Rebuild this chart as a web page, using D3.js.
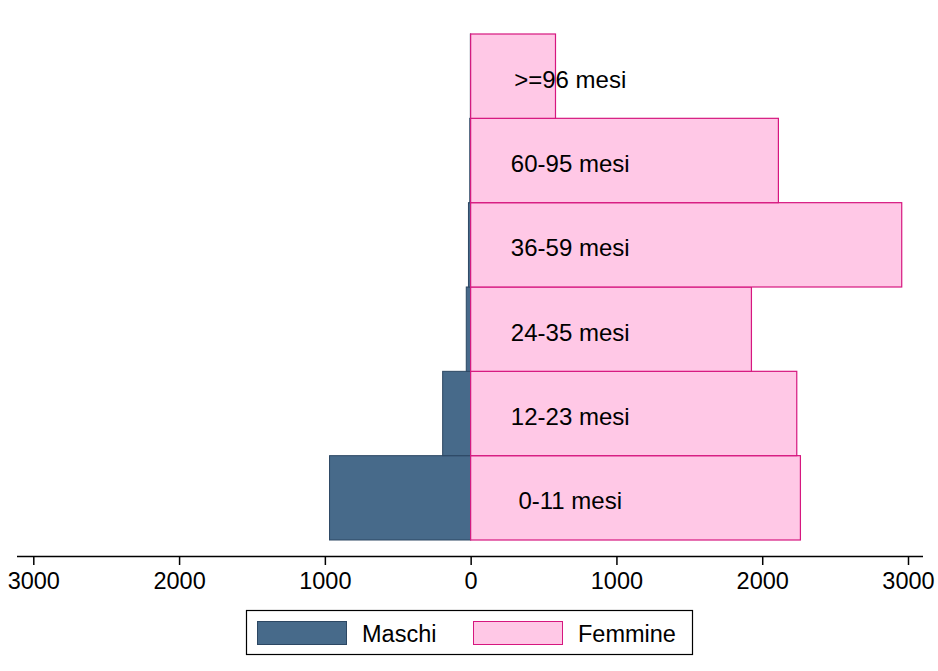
<!DOCTYPE html>
<html><head><meta charset="utf-8">
<script src="https://cdn.jsdelivr.net/npm/d3@7"></script>
<style>body{margin:0;background:#fff}svg{display:block}text{font-family:Arial,"Liberation Sans",sans-serif}</style>
</head><body><svg id="c" width="938" height="671"></svg>
<script>
const categories = ["0-11 mesi","12-23 mesi","24-35 mesi","36-59 mesi","60-95 mesi",">=96 mesi"];
const maschi = [968, 192, 30, 15, 6, 2];
const femmine = [2262, 2237, 1926, 2957, 2111, 582];
const tickValues = [-3000,-2000,-1000,0,1000,2000,3000];
const tickLabels = ["3000","2000","1000","0","1000","2000","3000"];
const labelPos = 683;

const svg = d3.select("#c");
const x = d3.scaleLinear().domain([-3000,3000]).range([33.3,908]);
const y = d3.scaleBand().domain(categories).range([540,34]).padding(0);

const maleFill="#476a8a", maleStroke="#2c4763", femFill="#ffc8e6", femStroke="#d6177f";

svg.append("g").selectAll("rect").data(categories).join("rect")
  .attr("x",(d,i)=>x(-maschi[i])).attr("width",(d,i)=>x(0)-x(-maschi[i]))
  .attr("y",d=>y(d)).attr("height",y.bandwidth())
  .attr("fill",maleFill).attr("stroke",maleStroke).attr("stroke-width",1);

svg.append("g").selectAll("rect").data(categories).join("rect")
  .attr("x",x(0)).attr("width",(d,i)=>x(femmine[i])-x(0))
  .attr("y",d=>y(d)).attr("height",y.bandwidth())
  .attr("fill",femFill).attr("stroke",femStroke).attr("stroke-width",1.2);

svg.append("g").selectAll("text").data(categories).join("text")
  .attr("x",x(labelPos)).attr("y",d=>y(d)+y.bandwidth()/2+3)
  .attr("dy","0.36em").attr("text-anchor","middle")
  .attr("font-size",24).attr("fill","#000").text(d=>d);

const ax = svg.append("g").attr("transform","translate(0,556)")
  .call(d3.axisBottom(x).tickValues(tickValues).tickFormat((d,i)=>tickLabels[i]).tickSize(9).tickPadding(7).tickSizeOuter(0));
ax.select(".domain").attr("d","M17,0.5H923").attr("stroke","#000").attr("stroke-width",1.5);
ax.selectAll(".tick line").attr("stroke","#000").attr("stroke-width",1.5);
ax.selectAll(".tick text").attr("font-size",23.5).attr("font-family","Arial, 'Liberation Sans', sans-serif").attr("fill","#000");

const lg = svg.append("g");
lg.append("rect").attr("x",246.5).attr("y",610.5).attr("width",446).attr("height",44).attr("fill","#fff").attr("stroke","#000").attr("stroke-width",1.2);
const items=[{n:"Maschi",f:maleFill,s:maleStroke,x:257},{n:"Femmine",f:femFill,s:femStroke,x:473}];
items.forEach(it=>{
  lg.append("rect").attr("x",it.x+0.5).attr("y",621.5).attr("width",89).attr("height",23).attr("fill",it.f).attr("stroke",it.s);
  lg.append("text").attr("x",it.x+105).attr("y",633.5).attr("dy","0.36em").attr("font-size",23.5).attr("fill","#000").text(it.n);
});
</script></body></html>
